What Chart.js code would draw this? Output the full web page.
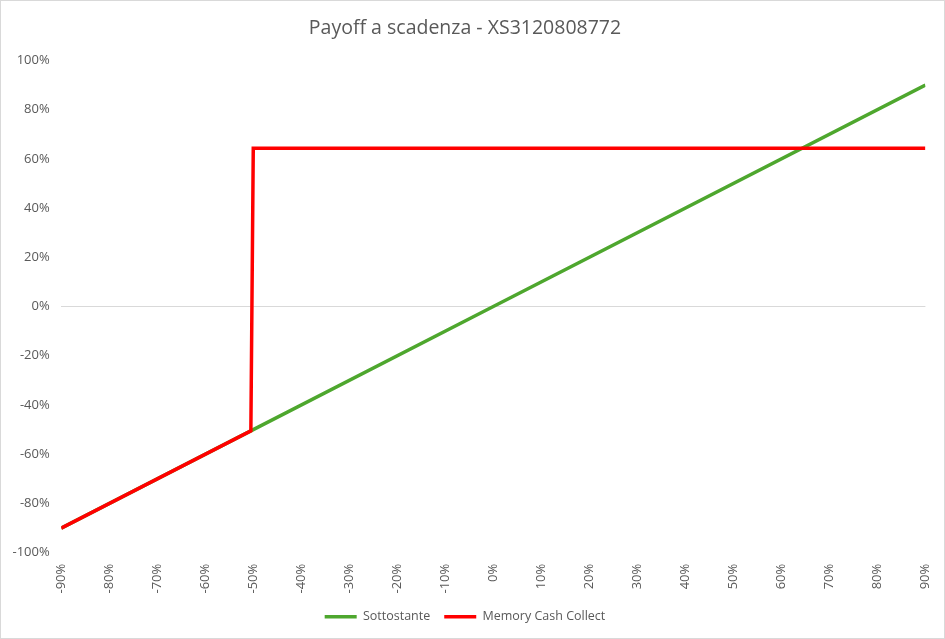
<!DOCTYPE html>
<html>
<head>
<meta charset="utf-8">
<script src="https://cdn.jsdelivr.net/npm/chart.js@4/dist/chart.umd.min.js"></script>
<style>
    html, body { margin: 0; padding: 0; background: #fff; }
    .frame { position: relative; width: 943px; height: 637px; border: 1px solid #d9d9d9; }
</style>
</head>
<body>
<div class="frame"><canvas id="myChart" width="943" height="637"></canvas></div>
<script>
// chart data (x = variazione sottostante, %)
const title_text = 'Payoff a scadenza - XS3120808772';
const series_names = ['Sottostante', 'Memory Cash Collect'];
const underlying_x = [-90, -50, 0, 90];
const underlying_y = [-90, -50, 0, 90];
const payoff_x = [-90, -50.5, -50, 90];
const payoff_y = [-90, -50.5, 64.3, 64.3];

function to_points( xs, ys ) {
    let pts = [];
    for( let i = 0; i < xs.length; ++i ) {
        pts.push({ x: xs[i], y: ys[i] });
    }
    return pts;
}

const font_family = "'Open Sans', 'Noto Sans', sans-serif";
const text_color = '#595959';

const data = {
    // red first so it is drawn over the green line, legend reversed below
    datasets: [{
        label: series_names[1],
        data: to_points(payoff_x, payoff_y),
        borderColor: '#ff0000',
        backgroundColor: '#ff0000',
        borderWidth: 3.5,
        pointRadius: 0,
        tension: 0
    }, {
        label: series_names[0],
        data: to_points(underlying_x, underlying_y),
        borderColor: '#4ea72e',
        backgroundColor: '#4ea72e',
        borderWidth: 3.5,
        pointRadius: 0,
        tension: 0
    }]
};

const config = {
    type: 'line',
    data: data,
    options: {
        responsive: false,
        animation: false,
        layout: { padding: { left: 0, right: 15, top: 4, bottom: 5 } },
        plugins: {
            title: {
                display: true,
                text: title_text,
                color: text_color,
                font: { family: font_family, size: 19.5, weight: 'normal' },
                padding: { top: 12, bottom: 20 }
            },
            legend: {
                position: 'bottom',
                reverse: true,
                labels: {
                    color: text_color,
                    font: { family: font_family, size: 12.5 },
                    usePointStyle: true,
                    pointStyle: 'line',
                    pointStyleWidth: 32,
                    boxHeight: 4,
                    padding: 14
                }
            },
            tooltip: { enabled: false }
        },
        scales: {
            x: {
                type: 'linear',
                min: -90,
                max: 90,
                grid: { display: false },
                border: { display: false },
                ticks: {
                    stepSize: 10,
                    minRotation: 90,
                    maxRotation: 90,
                    color: text_color,
                    font: { family: font_family, size: 13 },
                    callback: function(v) { return v + '%'; }
                }
            },
            y: {
                min: -100,
                max: 100,
                border: { display: false },
                grid: {
                    drawTicks: false,
                    color: function(ctx) {
                        return ctx.tick && ctx.tick.value === 0 ? '#d9d9d9' : 'rgba(0,0,0,0)';
                    }
                },
                ticks: {
                    stepSize: 20,
                    padding: 11.5,
                    color: text_color,
                    font: { family: font_family, size: 13 },
                    callback: function(v) { return v + '%'; }
                }
            }
        }
    }
};

const myChart = new Chart(document.getElementById('myChart'), config);
</script>
</body>
</html>
